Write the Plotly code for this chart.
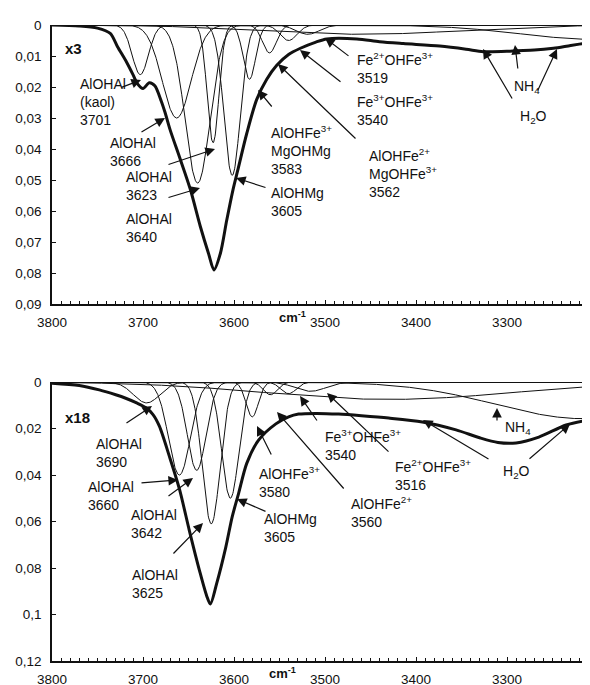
import numpy as np
import plotly.graph_objects as go

# ---------------- data ----------------
# Upper panel (x3): fitted component bands
top_band_centers = [3703, 3663, 3640, 3623, 3602, 3583, 3561, 3540, 3519, 3460, 3200]
top_band_depths = [0.016, 0.030, 0.051, 0.038, 0.0485, 0.0175, 0.009, 0.005, 0.003, 0.003, 0.0047]
top_band_fwhm = [21, 37, 32, 15, 21, 16, 18, 22, 30, 260, 200]

# Upper panel measured spectrum (thick line)
top_spec_wn = [3800, 3770, 3750, 3736, 3728, 3718, 3711, 3706, 3700, 3693, 3687, 3680,
               3676, 3670, 3660, 3648, 3637, 3628, 3622, 3615, 3608, 3601, 3596, 3586,
               3575, 3564, 3553, 3540, 3527, 3510, 3498, 3465, 3440, 3414, 3374, 3345,
               3326, 3300, 3289, 3270, 3249, 3230, 3210, 3200]
top_spec_val = [0.0, 0.0003, 0.001, 0.0027, 0.007, 0.012, 0.016, 0.019, 0.0205, 0.0186, 0.0196, 0.0245,
                0.028, 0.034, 0.0425, 0.053, 0.065, 0.0737, 0.079, 0.0737, 0.063, 0.053, 0.047, 0.035,
                0.024, 0.0175, 0.013, 0.0095, 0.0075, 0.0055, 0.0045, 0.0045, 0.0054, 0.006, 0.0068, 0.0078,
                0.0086, 0.0085, 0.0083, 0.0081, 0.0075, 0.0066, 0.0057, 0.0053]

# Lower panel (x18): fitted component bands
bot_band_centers = [3696, 3660, 3641, 3625, 3604, 3580, 3560, 3540, 3516, 3430, 3215]
bot_band_depths = [0.009, 0.040, 0.038, 0.061, 0.050, 0.015, 0.0055, 0.005, 0.004, 0.0075, 0.0158]
bot_band_fwhm = [34, 28, 24, 23, 22, 16, 18, 20, 40, 320, 230]

# Lower panel measured spectrum (thick line)
bot_spec_wn = [3800, 3770, 3748, 3730, 3719, 3707, 3697, 3689, 3682, 3671, 3660, 3649,
               3638, 3630, 3626, 3619, 3609, 3602, 3595, 3586, 3573, 3554, 3540, 3529,
               3510, 3485, 3460, 3430, 3393, 3356, 3330, 3310, 3290, 3265, 3235, 3210, 3200]
bot_spec_val = [0.0005, 0.0015, 0.0034, 0.0055, 0.007, 0.009, 0.011, 0.014, 0.019, 0.032, 0.046, 0.064,
                0.081, 0.092, 0.0955, 0.0866, 0.071, 0.058, 0.048, 0.035, 0.025, 0.018, 0.015, 0.0138,
                0.0135, 0.0138, 0.0145, 0.0155, 0.0172, 0.0206, 0.024, 0.026, 0.0262, 0.0237, 0.0185, 0.0163,
                0.0158]

# Tick labels
x_tick_vals = [3800, 3700, 3600, 3500, 3400, 3300, 3200]
x_tick_text = ["3800", "3700", "3600", "3500", "3400", "3300", "3200"]
top_y_vals = [0, 0.01, 0.02, 0.03, 0.04, 0.05, 0.06, 0.07, 0.08, 0.09]
top_y_text = ["0", "0,01", "0,02", "0,03", "0,04", "0,05", "0,06", "0,07", "0,08", "0,09"]
bot_y_vals = [0, 0.02, 0.04, 0.06, 0.08, 0.1, 0.12]
bot_y_text = ["0", "0,02", "0,04", "0,06", "0,08", "0,1", "0,12"]

# ---------------- layout geometry ----------------
# the page body adds an 8 px offset, so margins are reduced by 8 px
OFF = 8
W, H = 590, 685
ML, MT = 52 - OFF, 25 - OFF
PANEL_H = 279
PLOT_H = 636
MB = H - MT - PLOT_H
X_LEFT, X_RIGHT = 3800, 3200
TOP_DOM = [1 - PANEL_H / PLOT_H, 1]
BOT_DOM = [0, PANEL_H / PLOT_H]
PXW = (W - ML) / (X_LEFT - X_RIGHT)

# helpers: page pixel -> data coordinates
def px2x(px):
    return X_LEFT - (px - 52) / PXW

def py_top(py):
    return (py - 25) / PANEL_H * 0.09

def py_bot(py):
    return (py - 382) / PANEL_H * 0.12

FONT = "Liberation Sans, Arial, Helvetica, sans-serif"
INK = "#111111"

grid = np.linspace(X_LEFT, X_RIGHT, 1200)

def band(c, d, w):
    return d * np.exp(-4 * np.log(2) * ((grid - c) / w) ** 2)

fig = go.Figure()

for c, d, w in zip(top_band_centers, top_band_depths, top_band_fwhm):
    fig.add_trace(go.Scatter(x=grid, y=band(c, d, w), mode="lines",
                             line=dict(color=INK, width=1), xaxis="x", yaxis="y",
                             showlegend=False, hoverinfo="skip"))
fig.add_trace(go.Scatter(x=top_spec_wn, y=top_spec_val, mode="lines",
                         line=dict(color=INK, width=3, shape="spline", smoothing=0.8),
                         xaxis="x", yaxis="y", showlegend=False))

for c, d, w in zip(bot_band_centers, bot_band_depths, bot_band_fwhm):
    fig.add_trace(go.Scatter(x=grid, y=band(c, d, w), mode="lines",
                             line=dict(color=INK, width=1), xaxis="x2", yaxis="y2",
                             showlegend=False, hoverinfo="skip"))
fig.add_trace(go.Scatter(x=bot_spec_wn, y=bot_spec_val, mode="lines",
                         line=dict(color=INK, width=3, shape="spline", smoothing=0.8),
                         xaxis="x2", yaxis="y2", showlegend=False))

xaxis_common = dict(range=[X_LEFT, X_RIGHT], showline=True, linecolor=INK, linewidth=1.5,
                    ticks="inside", ticklen=4, tickcolor=INK, tickwidth=1,
                    tickmode="array", tickvals=x_tick_vals, ticktext=x_tick_text,
                    minor=dict(ticks="inside", ticklen=3, tickmode="linear", tick0=3800, dtick=10,
                               tickcolor=INK, tickwidth=1, showgrid=False),
                    showgrid=False, zeroline=False, ticklabelstandoff=5, automargin=False,
                    ticklabeloverflow="allow",
                    tickfont=dict(family=FONT, size=13.5, color=INK))
yaxis_common = dict(showline=True, linecolor=INK, linewidth=1.5, ticks="inside", ticklen=4,
                    tickcolor=INK, tickmode="array", showgrid=False, zeroline=False,
                    automargin=False, ticklabelstandoff=6, ticklabeloverflow="allow",
                    tickfont=dict(family=FONT, size=13.5, color=INK))

fig.update_layout(
    width=W, height=H, margin=dict(l=ML, r=0, t=MT, b=MB, pad=0, autoexpand=False),
    paper_bgcolor="white", plot_bgcolor="white",
    xaxis=dict(anchor="y", domain=[0, 1], **xaxis_common),
    yaxis=dict(anchor="x", domain=TOP_DOM, range=[0.09, 0], tickvals=top_y_vals,
               ticktext=top_y_text, **yaxis_common),
    xaxis2=dict(anchor="y2", domain=[0, 1], **xaxis_common),
    yaxis2=dict(anchor="x2", domain=BOT_DOM, range=[0.12, 0], tickvals=bot_y_vals,
                ticktext=bot_y_text, **yaxis_common),
)

# zero baselines (top frame lines)
for yr in ["y", "y2"]:
    fig.add_shape(type="line", xref="x domain" if yr == "y" else "x2 domain", x0=0, x1=1,
                  yref=yr, y0=0, y1=0, line=dict(color=INK, width=1.8))

annotations = []

def label(text, left_px, center_py, panel, size=14, bold=False):
    yconv = py_top if panel == 1 else py_bot
    if bold:
        text = "<b>" + text + "</b>"
    annotations.append(dict(text=text, x=px2x(left_px), y=yconv(center_py),
                            xref="x" if panel == 1 else "x2", yref="y" if panel == 1 else "y2",
                            xanchor="left", yanchor="middle", align="left", showarrow=False,
                            font=dict(family=FONT, size=size, color=INK)))

def arrow(tail, tip, panel):
    yconv = py_top if panel == 1 else py_bot
    xr = "x" if panel == 1 else "x2"
    yr = "y" if panel == 1 else "y2"
    annotations.append(dict(text="", x=px2x(tip[0]), y=yconv(tip[1]), ax=px2x(tail[0]),
                            ay=yconv(tail[1]), xref=xr, yref=yr, axref=xr, ayref=yr,
                            showarrow=True, arrowhead=2, arrowsize=1.6, arrowwidth=1.2,
                            arrowcolor=INK, standoff=0, startstandoff=0))

# Upper panel labels
label("x3", 63, 48, 1, size=15, bold=True)
label("AlOHAl<br>(kaol)<br>3701", 78, 102, 1)
label("AlOHAl<br>3666", 108, 152, 1)
label("AlOHAl<br>3623", 124, 185.5, 1)
label("AlOHAl<br>3640", 124, 227.5, 1)
label("AlOHMg<br>3605", 269, 202, 1)
label("AlOHFe<sup>3+</sup><br>MgOHMg<br>3583", 269, 150, 1)
label("AlOHFe<sup>2+</sup><br>MgOHFe<sup>3+</sup><br>3562", 367, 173, 1)
label("Fe<sup>3+</sup>OHFe<sup>3+</sup><br>3540", 355, 110, 1)
label("Fe<sup>2+</sup>OHFe<sup>3+</sup><br>3519", 355, 68, 1)
label("NH<sub>4</sub>", 512, 87, 1)
label("H<sub>2</sub>O", 518, 117, 1)

arrow((120, 88), (141, 80), 1)
arrow((140, 133), (165, 118), 1)
arrow((167, 165), (215, 149), 1)
arrow((167, 198), (200, 188), 1)
arrow((267, 188), (236, 178), 1)
arrow((273, 108), (258, 90), 1)
arrow((357, 140), (278, 64), 1)
arrow((342, 83), (300, 50), 1)
arrow((350, 57), (325, 38), 1)
arrow((518, 70), (515, 45), 1)
arrow((513, 100), (483, 49), 1)
arrow((537, 92), (557, 49), 1)

# Lower panel labels
label("x18", 63, 417, 2, size=15, bold=True)
label("AlOHAl<br>3690", 94, 453, 2)
label("AlOHAl<br>3660", 86, 496, 2)
label("AlOHAl<br>3642", 129, 524, 2)
label("AlOHAl<br>3625", 130, 583.5, 2)
label("AlOHMg<br>3605", 262, 527.5, 2)
label("AlOHFe<sup>3+</sup><br>3580", 257, 482, 2)
label("AlOHFe<sup>2+</sup><br>3560", 349, 512, 2)
label("Fe<sup>3+</sup>OHFe<sup>3+</sup><br>3540", 323, 445, 2)
label("Fe<sup>2+</sup>OHFe<sup>3+</sup><br>3516", 393, 475, 2)
label("NH<sub>4</sub>", 503, 428, 2)
label("H<sub>2</sub>O", 501, 472, 2)

arrow((125, 424), (152, 406), 2)
arrow((140, 483), (178, 480), 2)
arrow((167, 497), (193, 478), 2)
arrow((172, 555), (203, 523), 2)
arrow((267, 512), (237, 499), 2)
arrow((272, 456), (257, 426), 2)
arrow((345, 490), (277, 412), 2)
arrow((318, 422), (300, 396), 2)
arrow((390, 453), (327, 393), 2)
arrow((497, 422), (497, 408), 2)
arrow((490, 460), (423, 420), 2)
arrow((528, 460), (570, 424), 2)

# axis unit labels
annotations.append(dict(text="<b>cm<sup>-1</sup></b>", x=px2x(292), y=0, xref="x", yref="y domain",
                        yanchor="top", xanchor="center", yshift=-3, showarrow=False,
                        font=dict(family=FONT, size=13, color=INK)))
annotations.append(dict(text="<b>cm<sup>-1</sup></b>", x=px2x(282), y=0, xref="x2", yref="y2 domain",
                        yanchor="top", xanchor="center", yshift=-2, showarrow=False,
                        font=dict(family=FONT, size=13, color=INK)))

fig.update_layout(annotations=annotations)
fig.write_html("out.html", include_plotlyjs=True)
